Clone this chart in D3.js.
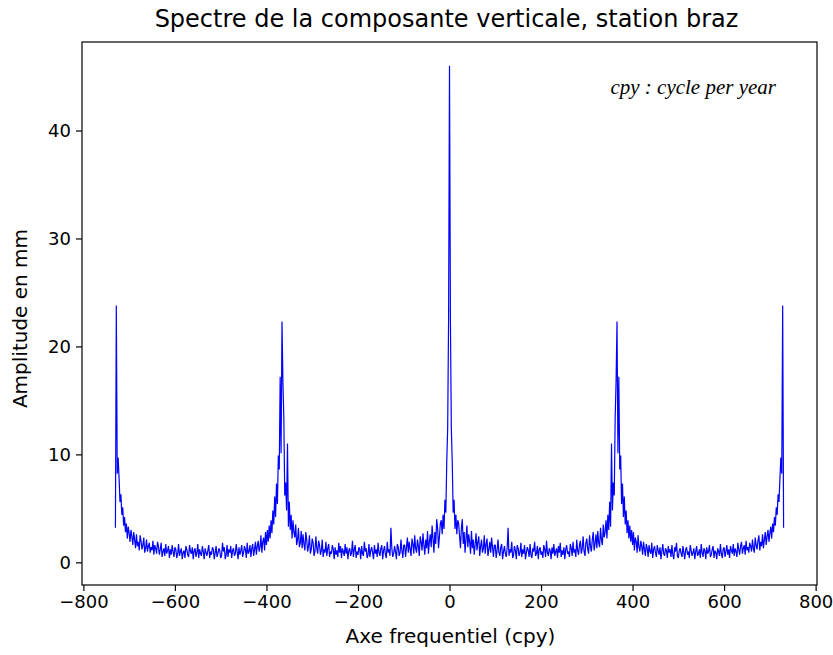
<!DOCTYPE html>
<html>
<head>
<meta charset="utf-8">
<script src="https://cdn.jsdelivr.net/npm/d3@7"></script>
<style>
	body { margin: 0; background: #fff; }
	text { font-family: 'DejaVu Sans', sans-serif; fill: #000; }
</style>
</head>
<body>
<div id="js_chart"></div>
<script>
	'use strict';
	// one-sided amplitude spectrum, every 2 cpy from 0 to 730
	const freqStep = 2;
	const ampHalf = [
		46.0, 22.5, 12.4, 9.3, 4.6, 5.8, 3.1, 4.4, 2.6, 3.9,    // 0
		3.6, 2.4, 1.3, 3.2, 4.0, 1.7, 2.8, 0.9, 2.2, 3.4,       // 20
		1.4, 2.6, 1.9, 0.8, 2.9, 1.3, 2.1, 0.7, 1.6, 2.7,       // 40
		1.1, 1.9, 2.4, 0.6, 1.5, 2.1, 0.9, 1.3, 2.5, 0.8,       // 60
		1.7, 2.2, 0.6, 1.2, 1.9, 0.9, 2.3, 1.4, 0.5, 1.6,       // 80
		1.6, 0.4, 1.1, 2.1, 0.9, 0.6, 1.4, 1.7, 0.3, 1.0,       // 100
		1.5, 0.8, 0.5, 1.3, 3.2, 0.6, 1.2, 0.9, 1.9, 0.4,       // 120
		0.7, 1.5, 1.1, 0.3, 1.6, 1.3, 0.6, 0.9, 1.8, 0.5,       // 140
		1.2, 0.8, 1.6, 0.3, 0.9, 1.4, 1.1, 0.5, 1.7, 0.7,       // 160
		0.4, 1.3, 1.0, 1.9, 0.6, 0.8, 1.5, 0.3, 1.2, 1.4,       // 180
		0.7, 1.0, 0.4, 1.6, 1.2, 0.5, 2.0, 0.9, 0.6, 1.3,       // 200
		1.1, 0.3, 1.4, 0.8, 1.7, 0.6, 1.0, 1.3, 0.4, 1.5,       // 220
		0.9, 1.8, 0.5, 1.1, 0.7, 1.4, 0.3, 1.2, 1.6, 0.8,       // 240
		1.0, 0.5, 1.7, 1.3, 0.6, 1.9, 0.9, 1.2, 0.5, 2.1,       // 260
		1.1, 0.7, 1.6, 2.0, 0.8, 1.3, 2.4, 1.0, 0.6, 1.8,       // 280
		2.2, 1.2, 0.8, 2.5, 1.5, 1.0, 2.1, 2.8, 1.1, 1.7,       // 300
		2.6, 1.3, 2.9, 1.8, 1.4, 3.2, 2.1, 1.6, 3.5, 2.3,       // 320
		2.8, 3.9, 2.2, 4.4, 3.0, 5.6, 3.3, 11.0, 4.8, 7.4,      // 340
		6.2, 13.4, 16.8, 22.3, 10.1, 17.2, 8.6, 9.9, 5.4, 7.3,  // 360
		4.2, 6.1, 3.5, 4.8, 2.7, 3.9, 2.2, 3.4, 1.9, 3.0,       // 380
		1.6, 2.8, 1.1, 2.3, 1.9, 0.9, 2.5, 1.4, 1.0, 2.0,       // 400
		1.5, 0.7, 1.9, 1.2, 0.6, 1.7, 1.3, 0.5, 1.6, 1.0,       // 420
		0.8, 1.8, 0.4, 1.2, 1.5, 0.9, 0.5, 1.6, 1.1, 0.7,       // 440
		1.4, 0.3, 1.0, 1.7, 0.8, 0.6, 1.3, 1.1, 0.4, 1.5,       // 460
		0.9, 1.2, 0.5, 1.6, 0.7, 0.3, 1.4, 1.0, 1.8, 0.6,       // 480
		0.4, 1.1, 1.3, 0.8, 0.5, 1.5, 0.9, 0.3, 1.2, 1.4,       // 500
		0.7, 1.0, 0.4, 1.6, 1.1, 0.6, 0.9, 1.3, 0.3, 1.0,       // 520
		1.5, 0.6, 0.8, 1.2, 0.4, 1.7, 0.9, 0.5, 1.3, 1.1,       // 540
		0.3, 1.4, 0.8, 1.0, 1.6, 0.5, 0.7, 1.2, 1.5, 0.4,       // 560
		1.1, 0.9, 0.3, 1.3, 1.0, 0.6, 1.7, 0.8, 0.4, 1.2,       // 580
		1.4, 0.5, 1.0, 1.6, 0.7, 1.2, 0.4, 1.5, 1.1, 0.8,       // 600
		1.7, 0.6, 1.3, 1.0, 0.5, 1.8, 1.2, 0.7, 1.5, 1.9,       // 620
		0.8, 1.3, 1.6, 0.7, 2.0, 1.1, 1.4, 0.9, 1.8, 1.5,       // 640
		1.0, 2.1, 1.3, 0.9, 2.3, 1.6, 1.2, 2.0, 2.5, 1.1,       // 660
		1.9, 1.5, 2.6, 1.3, 2.1, 2.8, 1.6, 2.4, 3.0, 1.9,       // 680
		2.7, 3.3, 2.2, 3.6, 2.8, 4.2, 3.4, 5.1, 4.4, 6.3,       // 700
		5.6, 7.8, 9.7, 8.2, 23.8, 3.2                           // 720
	];
	const xTicks = [-800, -600, -400, -200, 0, 200, 400, 600, 800];
	const yTicks = [0, 10, 20, 30, 40];
	const xDomain = [-803, 803];
	const yDomain = [-2.1, 48.2];
	const titleText = 'Spectre de la composante verticale, station braz';
	const xLabel = 'Axe frequentiel (cpy)';
	const yLabel = 'Amplitude en mm';
	const noteText = 'cpy : cycle per year';

	// spectrum of a real signal is symmetric: mirror the positive half
	let spectrum = [];
	for (let i = ampHalf.length - 1; i > 0; i--) {
		spectrum.push({ f: -i * freqStep, a: ampHalf[i] });
	}
	for (let i = 0; i < ampHalf.length; i++) {
		spectrum.push({ f: i * freqStep, a: ampHalf[i] });
	}

	const width = 833;
	const height = 655;
	const margin = { top: 42, right: 16, bottom: 70, left: 82 };
	const innerW = width - margin.left - margin.right;
	const innerH = height - margin.top - margin.bottom;

	let svg = d3.select('#js_chart').append('svg')
		.attr('width', width)
		.attr('height', height);
	let g = svg.append('g')
		.attr('transform', 'translate(' + margin.left + ',' + margin.top + ')');

	let x = d3.scaleLinear().domain(xDomain).range([0, innerW]);
	let y = d3.scaleLinear().domain(yDomain).range([innerH, 0]);

	g.append('defs').append('clipPath').attr('id', 'plotClip')
		.append('rect').attr('width', innerW).attr('height', innerH);

	// spectrum line
	let line = d3.line()
		.x(function (d) { return x(d.f); })
		.y(function (d) { return y(d.a); });
	g.append('path')
		.datum(spectrum)
		.attr('clip-path', 'url(#plotClip)')
		.attr('d', line)
		.style('fill', 'none')
		.style('stroke', '#0000ff')
		.style('stroke-width', 1.2)
		.style('stroke-linejoin', 'bevel');

	// axes
	let xAxis = d3.axisBottom(x).tickValues(xTicks).tickSize(6).tickPadding(4)
		.tickFormat(function (d) { return d < 0 ? '\u2212' + Math.abs(d) : d; });
	let yAxis = d3.axisLeft(y).tickValues(yTicks).tickSize(6).tickPadding(5);
	let gx = g.append('g').attr('transform', 'translate(0,' + innerH + ')').call(xAxis);
	let gy = g.append('g').call(yAxis);
	[gx, gy].forEach(function (a) {
		a.select('.domain').remove();
		a.selectAll('.tick line').style('stroke', '#000').style('stroke-width', 1.2);
		a.selectAll('.tick text')
			.style('font-family', "'DejaVu Sans', sans-serif")
			.style('font-size', '18px')
			.style('fill', '#000');
	});

	// frame
	g.append('rect')
		.attr('width', innerW).attr('height', innerH)
		.style('fill', 'none')
		.style('stroke', '#000')
		.style('stroke-width', 1.2);

	// texts
	svg.append('text')
		.attr('x', margin.left + innerW / 2 - 3).attr('y', 27)
		.style('text-anchor', 'middle').style('font-size', '24px')
		.text(titleText);
	svg.append('text')
		.attr('x', margin.left + innerW / 2 + 1).attr('y', height - 12)
		.style('text-anchor', 'middle').style('font-size', '20px')
		.text(xLabel);
	svg.append('text')
		.attr('transform', 'translate(27,' + (margin.top + innerH / 2 + 5) + ') rotate(-90)')
		.style('text-anchor', 'middle').style('font-size', '20px')
		.text(yLabel);
	svg.append('text')
		.attr('x', 776).attr('y', 94)
		.style('text-anchor', 'end')
		.style('font-family', "'Liberation Serif', 'Times New Roman', serif")
		.style('font-style', 'italic')
		.style('font-size', '21px')
		.text(noteText);
</script>
</body>
</html>
